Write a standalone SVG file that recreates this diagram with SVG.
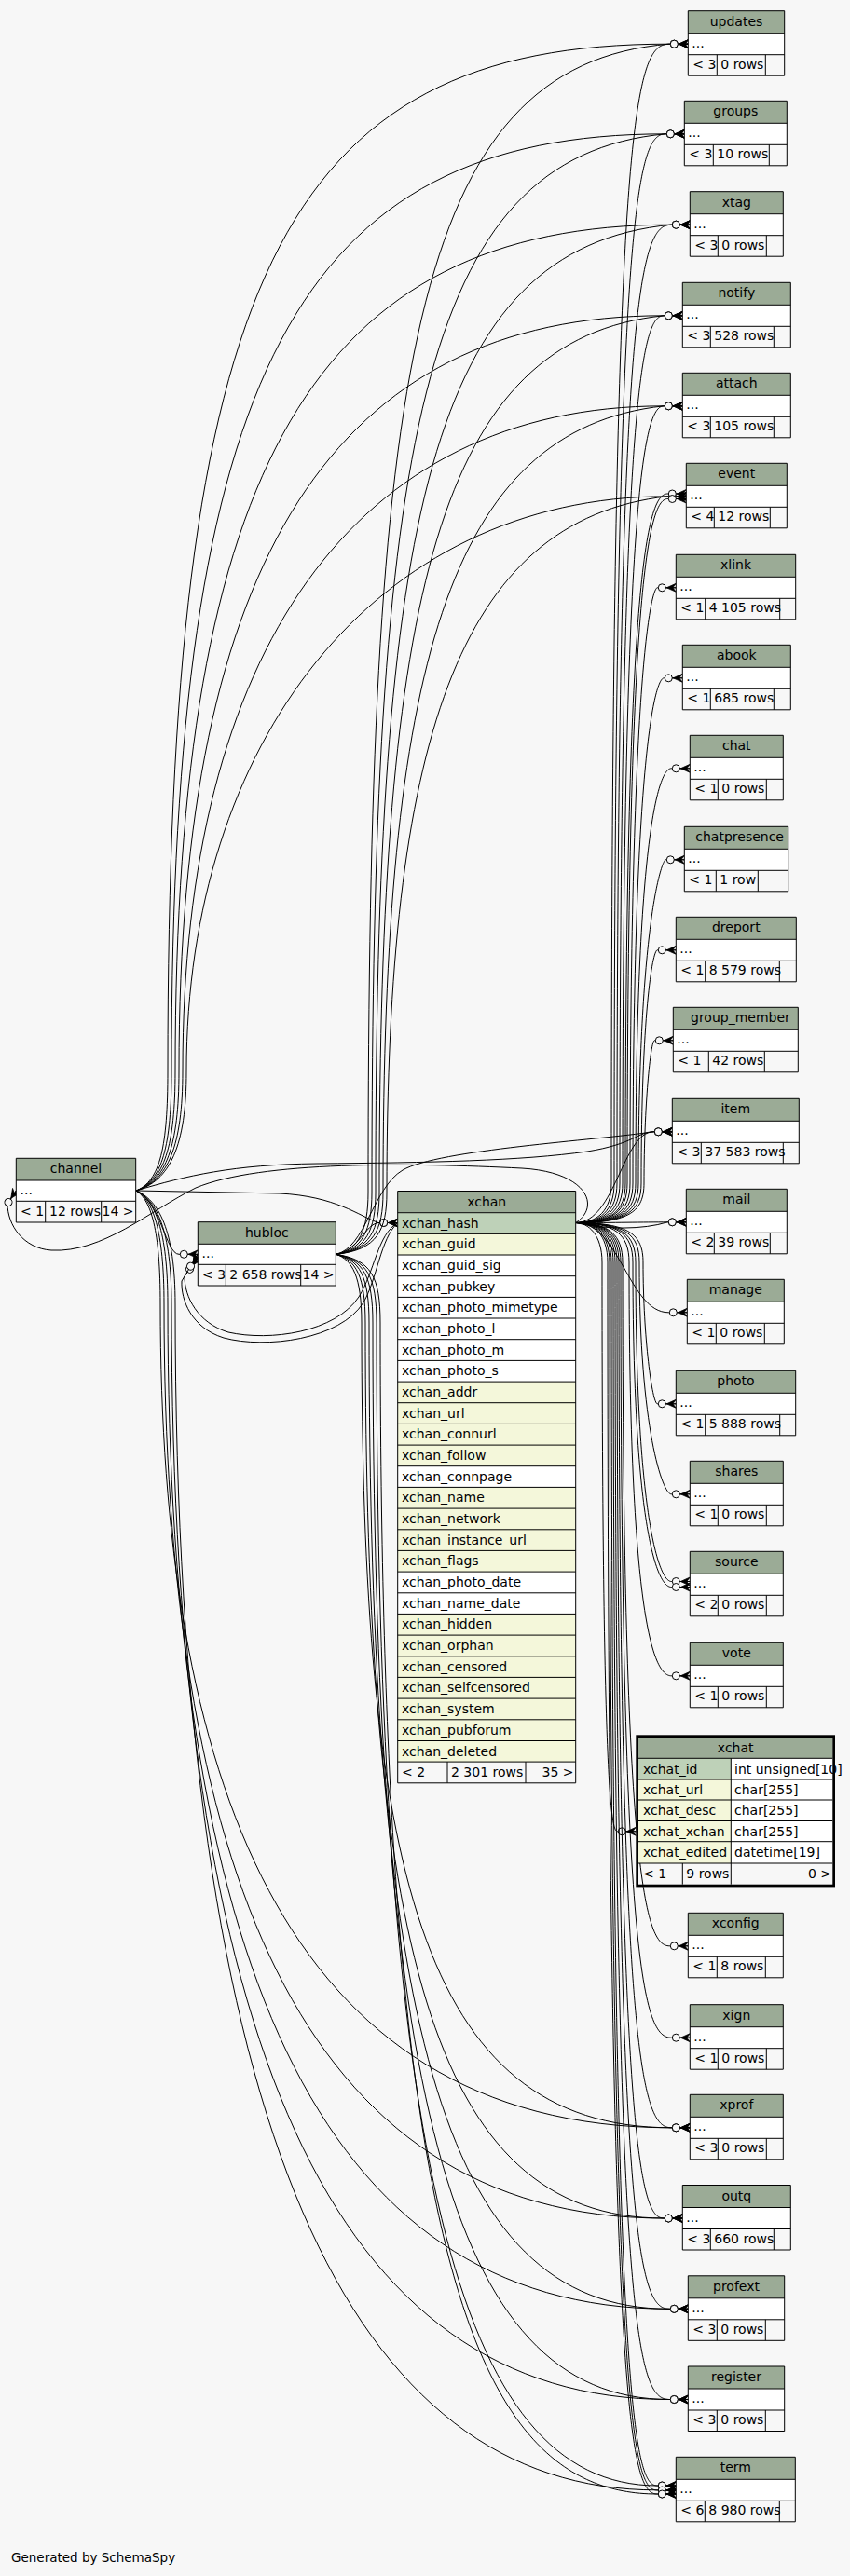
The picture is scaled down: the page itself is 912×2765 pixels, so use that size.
<svg xmlns="http://www.w3.org/2000/svg" width="912" height="2765" viewBox="0 0 912 2765">
<style>
.t{font-family:"DejaVu Sans",Verdana,sans-serif;font-size:14px;fill:#000}
.m{text-anchor:middle}
.r{text-anchor:end}
.hd{fill:#9bab96}
.pk{fill:#bed1b8}
.fk{fill:#f4f7da}
.w{fill:#fff}
.ln{fill:none;stroke:#000;stroke-width:1}
.e{fill:none;stroke:#000;stroke-width:1;marker-end:url(#cf)}
</style>
<defs>
<marker id="cf" viewBox="0 0 22 12" refX="21" refY="6" markerWidth="22" markerHeight="12" markerUnits="userSpaceOnUse" orient="auto">
<circle cx="6" cy="6" r="4" fill="#f7f7f7" stroke="#000" stroke-width="1"/>
<path d="M21,1.5 L11,6 L21,10.5 L17.5,6 Z" fill="#000" stroke="#000" stroke-width="0.8"/>
<path d="M10,6 H21" stroke="#000" stroke-width="1"/>
</marker>
</defs>
<rect x="0" y="0" width="912" height="2765" fill="#f7f7f7"/>
<g id="connectors">
<!-- channel -->
<path class="e" d="M146,1278 L300,1281 C360,1284 385,1305 406,1312.5 L426.7,1312.5"/>
<path class="e" d="M146,1278 C172,1288 178,1346.3 192,1346.3 L212.3,1346.3"/>
<path class="e" d="M146,1278 C172,1268 180,1230 180,1150 C180,300 300,47.2 718.3,47.2 L738.3,47.2"/>
<path class="e" d="M146,1278 C174,1268 184,1230 184,1150 C184,400 320,143.8 714.3,143.8 L734.3,143.8"/>
<path class="e" d="M146,1278 C176,1268 188,1230 188,1150 C188,500 340,241.2 720.3,241.2 L740.3,241.2"/>
<path class="e" d="M146,1278 C178,1268 192,1230 192,1150 C192,600 360,338.8 712.3,338.8 L732.3,338.8"/>
<path class="e" d="M146,1278 C180,1268 196,1230 196,1150 C196,700 380,435.8 712.3,435.8 L732.3,435.8"/>
<path class="e" d="M146,1278 C182,1268 200,1230 200,1150 C200,800 400,532.8 716.3,532.8 L736.3,532.8"/>
<path class="e" d="M146,1278 C200,1262 250,1250 340,1249 C460,1248 560,1246 630,1236 C680,1228 685,1214.8 701.3,1214.8 L721.3,1214.8"/>
<path class="e" d="M146,1278 C162,1288 172,1320 172,1400 C172,1900 300,2283.8 720.3,2283.8 L740.3,2283.8"/>
<path class="e" d="M146,1278 C164,1288 176,1320 176,1400 C176,2000 320,2381 712.3,2381 L732.3,2381"/>
<path class="e" d="M146,1278 C166,1288 180,1320 180,1400 C180,2100 340,2478.3 718.3,2478.3 L738.3,2478.3"/>
<path class="e" d="M146,1278 C168,1288 184,1320 184,1400 C184,2200 360,2575.5 718.3,2575.5 L738.3,2575.5"/>
<path class="e" d="M146,1278 C170,1288 188,1320 188,1400 C188,2300 380,2672.8 705.3,2672.8 L725.3,2672.8"/>
<!-- hubloc -->
<path class="e" d="M360.3,1346.3 C385,1342 392,1314 406,1312.5 L426.7,1312.5"/>
<path class="e" d="M360.3,1346.3 C385,1342 395,1320 395,1280 C395,400 440,70 718.3,47.2 L738.3,47.2"/>
<path class="e" d="M360.3,1346.3 C389,1342 399,1320 399,1280 C399,480 450,168 714.3,143.8 L734.3,143.8"/>
<path class="e" d="M360.3,1346.3 C393,1342 403,1320 403,1280 C403,560 460,266 720.3,241.2 L740.3,241.2"/>
<path class="e" d="M360.3,1346.3 C397,1342 407,1320 407,1280 C407,640 470,364 712.3,338.8 L732.3,338.8"/>
<path class="e" d="M360.3,1346.3 C401,1342 411,1320 411,1280 C411,720 480,461 712.3,435.8 L732.3,435.8"/>
<path class="e" d="M360.3,1346.3 C405,1342 415,1320 415,1280 C415,800 490,558 716.3,532.8 L736.3,532.8"/>
<path class="e" d="M360.3,1346.3 C392,1340 400,1275 432,1256 C470,1234 640,1224 701.3,1214.8 L721.3,1214.8"/>
<path class="e" d="M360.3,1346.3 C378,1352 388,1370 388,1420 C388,2000 450,2283.8 720.3,2283.8 L740.3,2283.8"/>
<path class="e" d="M360.3,1346.3 C382,1352 392,1370 392,1420 C392,2080 460,2381 712.3,2381 L732.3,2381"/>
<path class="e" d="M360.3,1346.3 C386,1352 396,1370 396,1420 C396,2160 470,2478.3 718.3,2478.3 L738.3,2478.3"/>
<path class="e" d="M360.3,1346.3 C390,1352 400,1370 400,1420 C400,2240 480,2575.5 718.3,2575.5 L738.3,2575.5"/>
<path class="e" d="M360.3,1346.3 C394,1352 404,1370 404,1420 C404,2320 490,2668 705.3,2668 L725.3,2668"/>
<path class="e" d="M360.3,1346.3 C398,1352 408,1370 408,1420 C408,2400 500,2677 705.3,2677 L725.3,2677"/>
<!-- xchan -->
<path class="e" d="M617.7,1312.5 C645,1295 630,1258 560,1254 C440,1248 280,1246 210,1275 C160,1300 110,1345 55,1342 C25,1340 8,1315 8,1292 L17.3,1278"/>
<path class="e" d="M426.7,1312.5 C405,1325 402,1365 385,1392 C360,1430 290,1440 245,1430 C212,1420 198,1392 198,1370 L212.3,1350"/>
<path class="e" d="M426.7,1312.5 C408,1330 405,1372 390,1398 C365,1438 285,1448 240,1436 C205,1425 194,1395 195,1375 L212.3,1346.3"/>
<path class="e" d="M617.7,1312.5 C641,1312.5 656,1300 656,1270 C656,117.2 681,47.2 718.3,47.2 L738.3,47.2"/>
<path class="e" d="M617.7,1312.5 C644,1312.5 659,1300 659,1270 C659,213.8 684,143.8 714.3,143.8 L734.3,143.8"/>
<path class="e" d="M617.7,1312.5 C647,1312.5 662,1300 662,1270 C662,311.2 687,241.2 720.3,241.2 L740.3,241.2"/>
<path class="e" d="M617.7,1312.5 C650,1312.5 665,1300 665,1270 C665,408.8 690,338.8 712.3,338.8 L732.3,338.8"/>
<path class="e" d="M617.7,1312.5 C653,1312.5 668,1300 668,1270 C668,505.8 693,435.8 712.3,435.8 L732.3,435.8"/>
<path class="e" d="M617.7,1312.5 C656,1312.5 671,1300 671,1270 C671,600 696,530 716.3,530 L736.3,530"/>
<path class="e" d="M617.7,1312.5 C658,1312.5 673,1300 673,1270 C673,605.5 698,535.5 716.3,535.5 L736.3,535.5"/>
<path class="e" d="M617.7,1312.5 C661,1312.5 676,1300 676,1270 C676,700.8 700,630.8 705.3,630.8 L725.3,630.8"/>
<path class="e" d="M617.7,1312.5 C664,1312.5 679,1300 679,1270 C679,797.8 704,727.8 712.3,727.8 L732.3,727.8"/>
<path class="e" d="M617.7,1312.5 C667,1312.5 682,1300 682,1270 C682,894.8 707,824.8 720.3,824.8 L740.3,824.8"/>
<path class="e" d="M617.7,1312.5 C670,1312.5 685,1300 685,1270 C685,992.8 710,922.8 714.3,922.8 L734.3,922.8"/>
<path class="e" d="M617.7,1312.5 C673,1312.5 688,1300 688,1270 C688,1089.8 700,1019.8 705.3,1019.8 L725.3,1019.8"/>
<path class="e" d="M617.7,1312.5 C676,1312.5 691,1300 691,1270 C691,1186.8 698,1116.8 702.3,1116.8 L722.3,1116.8"/>
<path class="e" d="M617.7,1312.5 C660,1312.5 668,1214.8 701.3,1214.8 L721.3,1214.8"/>
<path class="e" d="M617.7,1312.5 C660,1312.5 690,1311.8 716.3,1311.8 L736.3,1311.8"/>
<path class="e" d="M617.7,1312.5 C650,1320 690,1320 716.3,1311.8 L736.3,1311.8"/>
<path class="e" d="M617.7,1312.5 C665,1312.5 675,1408.8 717.3,1408.8 L737.3,1408.8"/>
<path class="e" d="M617.7,1312.5 C675,1312.5 690,1325 690,1355 C690,1436.8 700,1506.8 705.3,1506.8 L725.3,1506.8"/>
<path class="e" d="M617.7,1312.5 C671,1312.5 686,1325 686,1355 C686,1533.8 711,1603.8 720.3,1603.8 L740.3,1603.8"/>
<path class="e" d="M617.7,1312.5 C667,1312.5 682,1325 682,1355 C682,1627.5 707,1697.5 720.3,1697.5 L740.3,1697.5"/>
<path class="e" d="M617.7,1312.5 C664,1312.5 679,1325 679,1355 C679,1633.5 704,1703.5 720.3,1703.5 L740.3,1703.5"/>
<path class="e" d="M617.7,1312.5 C660,1312.5 675,1325 675,1355 C675,1728.8 700,1798.8 720.3,1798.8 L740.3,1798.8"/>
<path class="e" d="M617.7,1312.5 C631,1312.5 646,1325 646,1355 C646,1900 655,1965.8 662.3,1965.8 L682.3,1965.8"/>
<path class="e" d="M617.7,1312.5 C653,1312.5 668,1325 668,1355 C668,2018.8 693,2088.8 718.3,2088.8 L738.3,2088.8"/>
<path class="e" d="M617.7,1312.5 C651,1312.5 666,1325 666,1355 C666,2117.2 691,2187.2 720.3,2187.2 L740.3,2187.2"/>
<path class="e" d="M617.7,1312.5 C649,1312.5 664,1325 664,1355 C664,2213.8 689,2283.8 720.3,2283.8 L740.3,2283.8"/>
<path class="e" d="M617.7,1312.5 C647,1312.5 662,1325 662,1355 C662,2311 687,2381 712.3,2381 L732.3,2381"/>
<path class="e" d="M617.7,1312.5 C645,1312.5 660,1325 660,1355 C660,2408.3 685,2478.3 718.3,2478.3 L738.3,2478.3"/>
<path class="e" d="M617.7,1312.5 C643,1312.5 658,1325 658,1355 C658,2505.5 683,2575.5 718.3,2575.5 L738.3,2575.5"/>
<path class="e" d="M617.7,1312.5 C641,1312.5 656,1325 656,1355 C656,2598 681,2668 705.3,2668 L725.3,2668"/>
<path class="e" d="M617.7,1312.5 C639,1312.5 654,1325 654,1355 C654,2603 679,2673 705.3,2673 L725.3,2673"/>
<path class="e" d="M617.7,1312.5 C637,1312.5 652,1325 652,1355 C652,2607 677,2677 705.3,2677 L725.3,2677"/>
</g>

<g id="channel">
<rect class="hd" x="17.3" y="1243.3" width="128.4" height="23.7"/>
<rect class="w" x="17.3" y="1267" width="128.4" height="22.3"/>
<text class="t m" x="81.5" y="1259">channel</text>
<text class="t" x="21.5" y="1282">...</text>
<text class="t" x="22" y="1305">&lt; 1</text>
<text class="t" x="53" y="1305">12 rows</text>
<text class="t r" x="143.5" y="1305">14 &gt;</text>
<path class="ln" d="M17.3,1243.3H145.7V1312H17.3Z M17.3,1267H145.7 M17.3,1289.3H145.7 M48.7,1289.3V1312 M108.7,1289.3V1312"/>
</g>

<g id="hubloc">
<rect class="hd" x="212.3" y="1311.7" width="148" height="23.6"/>
<rect class="w" x="212.3" y="1335.3" width="148" height="22"/>
<text class="t m" x="286.3" y="1328">hubloc</text>
<text class="t" x="216.5" y="1350">...</text>
<text class="t" x="217" y="1373">&lt; 3</text>
<text class="t" x="246.3" y="1373">2 658 rows</text>
<text class="t r" x="358.5" y="1373">14 &gt;</text>
<path class="ln" d="M212.3,1311.7H360.3V1380H212.3Z M212.3,1335.3H360.3 M212.3,1357.3H360.3 M242.3,1357.3V1380 M322.7,1357.3V1380"/>
</g>

<g id="xchan">
<rect class="hd" x="426.7" y="1278.5" width="191" height="23.2"/>
<rect class="w" x="426.7" y="1301.7" width="191" height="589.4"/>
<rect class="pk" x="426.7" y="1301.7" width="191" height="22.7"/>
<rect class="fk" x="426.7" y="1324.4" width="191" height="22.6"/>
<rect class="fk" x="426.7" y="1483.1" width="191" height="90.6"/>
<rect class="fk" x="426.7" y="1596.4" width="191" height="90.7"/>
<rect class="fk" x="426.7" y="1732.4" width="191" height="158.7"/>
<text class="t m" x="522.2" y="1295">xchan</text>
<text class="t" x="431" y="1317.7">xchan_hash</text>
<text class="t" x="431" y="1340.4">xchan_guid</text>
<text class="t" x="431" y="1363">xchan_guid_sig</text>
<text class="t" x="431" y="1385.7">xchan_pubkey</text>
<text class="t" x="431" y="1408.4">xchan_photo_mimetype</text>
<text class="t" x="431" y="1431">xchan_photo_l</text>
<text class="t" x="431" y="1453.7">xchan_photo_m</text>
<text class="t" x="431" y="1476.4">xchan_photo_s</text>
<text class="t" x="431" y="1499.1">xchan_addr</text>
<text class="t" x="431" y="1521.7">xchan_url</text>
<text class="t" x="431" y="1544.4">xchan_connurl</text>
<text class="t" x="431" y="1567.1">xchan_follow</text>
<text class="t" x="431" y="1589.7">xchan_connpage</text>
<text class="t" x="431" y="1612.4">xchan_name</text>
<text class="t" x="431" y="1635.1">xchan_network</text>
<text class="t" x="431" y="1657.8">xchan_instance_url</text>
<text class="t" x="431" y="1680.4">xchan_flags</text>
<text class="t" x="431" y="1703.1">xchan_photo_date</text>
<text class="t" x="431" y="1725.8">xchan_name_date</text>
<text class="t" x="431" y="1748.4">xchan_hidden</text>
<text class="t" x="431" y="1771.1">xchan_orphan</text>
<text class="t" x="431" y="1793.8">xchan_censored</text>
<text class="t" x="431" y="1816.4">xchan_selfcensored</text>
<text class="t" x="431" y="1839.1">xchan_system</text>
<text class="t" x="431" y="1861.8">xchan_pubforum</text>
<text class="t" x="431" y="1884.5">xchan_deleted</text>
<text class="t" x="431" y="1907">&lt; 2</text>
<text class="t" x="484" y="1907">2 301 rows</text>
<text class="t r" x="615.5" y="1907">35 &gt;</text>
<path class="ln" d="M426.7,1278.5H617.7V1913.8H426.7Z M426.7,1301.7H617.7 M426.7,1324.4H617.7 M426.7,1347H617.7 M426.7,1369.7H617.7 M426.7,1392.4H617.7 M426.7,1415H617.7 M426.7,1437.7H617.7 M426.7,1460.4H617.7 M426.7,1483.1H617.7 M426.7,1505.7H617.7 M426.7,1528.4H617.7 M426.7,1551.1H617.7 M426.7,1573.7H617.7 M426.7,1596.4H617.7 M426.7,1619.1H617.7 M426.7,1641.8H617.7 M426.7,1664.4H617.7 M426.7,1687.1H617.7 M426.7,1709.8H617.7 M426.7,1732.4H617.7 M426.7,1755.1H617.7 M426.7,1777.8H617.7 M426.7,1800.4H617.7 M426.7,1823.1H617.7 M426.7,1845.8H617.7 M426.7,1868.5H617.7 M426.7,1891.1H617.7 M480,1891.1V1913.8 M564,1891.1V1913.8"/>
</g>

<g id="xchat">
<rect class="hd" x="685" y="1865" width="208.3" height="22.3"/>
<rect class="pk" x="685" y="1887.3" width="99.3" height="22.7"/>
<rect class="fk" x="685" y="1910" width="99.3" height="90"/>
<rect class="w" x="784.3" y="1887.3" width="109" height="112.7"/>
<text class="t m" x="789.2" y="1881">xchat</text>
<text class="t" x="690" y="1903.5">xchat_id</text>
<text class="t" x="788" y="1903.5">int unsigned[10]</text>
<text class="t" x="690" y="1926">xchat_url</text>
<text class="t" x="788" y="1926">char[255]</text>
<text class="t" x="690" y="1948.3">xchat_desc</text>
<text class="t" x="788" y="1948.3">char[255]</text>
<text class="t" x="690" y="1970.6">xchat_xchan</text>
<text class="t" x="788" y="1970.6">char[255]</text>
<text class="t" x="690" y="1993.4">xchat_edited</text>
<text class="t" x="788" y="1993.4">datetime[19]</text>
<text class="t" x="690" y="2016">&lt; 1</text>
<text class="t" x="736.3" y="2016">9 rows</text>
<text class="t r" x="892" y="2016">0 &gt;</text>
<path class="ln" d="M685,1887.3H893.3 M685,1910H893.3 M685,1932H893.3 M685,1954.5H893.3 M685,1976.7H893.3 M685,2000H893.3 M784.3,1887.3V2022.7 M732.3,2000V2022.7"/>
<rect x="683.65" y="1863.65" width="211" height="160.4" fill="none" stroke="#000" stroke-width="2.7"/>
</g>

<g id="updates">
<rect class="hd" x="738.3" y="11.7" width="103.4" height="24"/><rect class="w" x="738.3" y="35.7" width="103.4" height="23"/>
<text class="t m" x="790" y="27.7">updates</text><text class="t" x="742.3" y="50.7">...</text><text class="t" x="743.3" y="73.7">&lt; 3</text><text class="t" x="773.3" y="73.7">0 rows</text>
<path class="ln" d="M738.3,11.7H841.7V81.2H738.3Z M738.3,35.7H841.7 M738.3,58.7H841.7 M769.3,58.7V81.2 M821.3,58.7V81.2"/>
</g>
<g id="groups">
<rect class="hd" x="734.3" y="108.3" width="110" height="24"/><rect class="w" x="734.3" y="132.3" width="110" height="23"/>
<text class="t m" x="789.3" y="124.3">groups</text><text class="t" x="738.3" y="147.3">...</text><text class="t" x="739.3" y="170.3">&lt; 3</text><text class="t" x="769.3" y="170.3">10 rows</text>
<path class="ln" d="M734.3,108.3H844.3V177.8H734.3Z M734.3,132.3H844.3 M734.3,155.3H844.3 M765.3,155.3V177.8 M825.3,155.3V177.8"/>
</g>
<g id="xtag">
<rect class="hd" x="740.3" y="205.7" width="100" height="24"/><rect class="w" x="740.3" y="229.7" width="100" height="23"/>
<text class="t m" x="790.3" y="221.7">xtag</text><text class="t" x="744.3" y="244.7">...</text><text class="t" x="745.3" y="267.7">&lt; 3</text><text class="t" x="774.3" y="267.7">0 rows</text>
<path class="ln" d="M740.3,205.7H840.3V275.2H740.3Z M740.3,229.7H840.3 M740.3,252.7H840.3 M770.3,252.7V275.2 M822.3,252.7V275.2"/>
</g>
<g id="notify">
<rect class="hd" x="732.3" y="303.3" width="116" height="24"/><rect class="w" x="732.3" y="327.3" width="116" height="23"/>
<text class="t m" x="790.3" y="319.3">notify</text><text class="t" x="736.3" y="342.3">...</text><text class="t" x="737.3" y="365.3">&lt; 3</text><text class="t" x="766.3" y="365.3">528 rows</text>
<path class="ln" d="M732.3,303.3H848.3V372.8H732.3Z M732.3,327.3H848.3 M732.3,350.3H848.3 M762.3,350.3V372.8 M830.3,350.3V372.8"/>
</g>
<g id="attach">
<rect class="hd" x="732.3" y="400.3" width="116" height="24"/><rect class="w" x="732.3" y="424.3" width="116" height="23"/>
<text class="t m" x="790.3" y="416.3">attach</text><text class="t" x="736.3" y="439.3">...</text><text class="t" x="737.3" y="462.3">&lt; 3</text><text class="t" x="766.3" y="462.3">105 rows</text>
<path class="ln" d="M732.3,400.3H848.3V469.8H732.3Z M732.3,424.3H848.3 M732.3,447.3H848.3 M762.3,447.3V469.8 M830.3,447.3V469.8"/>
</g>
<g id="event">
<rect class="hd" x="736.3" y="497.3" width="108" height="24"/><rect class="w" x="736.3" y="521.3" width="108" height="23"/>
<text class="t m" x="790.3" y="513.3">event</text><text class="t" x="740.3" y="536.3">...</text><text class="t" x="741.3" y="559.3">&lt; 4</text><text class="t" x="770.3" y="559.3">12 rows</text>
<path class="ln" d="M736.3,497.3H844.3V566.8H736.3Z M736.3,521.3H844.3 M736.3,544.3H844.3 M766.3,544.3V566.8 M826.3,544.3V566.8"/>
</g>
<g id="xlink">
<rect class="hd" x="725.3" y="595.3" width="128.4" height="24"/><rect class="w" x="725.3" y="619.3" width="128.4" height="23"/>
<text class="t m" x="789.5" y="611.3">xlink</text><text class="t" x="729.3" y="634.3">...</text><text class="t" x="730.3" y="657.3">&lt; 1</text><text class="t" x="760.7" y="657.3">4 105 rows</text>
<path class="ln" d="M725.3,595.3H853.7V664.8H725.3Z M725.3,619.3H853.7 M725.3,642.3H853.7 M756.7,642.3V664.8 M836.7,642.3V664.8"/>
</g>
<g id="abook">
<rect class="hd" x="732.3" y="692.3" width="116" height="24"/><rect class="w" x="732.3" y="716.3" width="116" height="23"/>
<text class="t m" x="790.3" y="708.3">abook</text><text class="t" x="736.3" y="731.3">...</text><text class="t" x="737.3" y="754.3">&lt; 1</text><text class="t" x="766.3" y="754.3">685 rows</text>
<path class="ln" d="M732.3,692.3H848.3V761.8H732.3Z M732.3,716.3H848.3 M732.3,739.3H848.3 M762.3,739.3V761.8 M830.3,739.3V761.8"/>
</g>
<g id="chat">
<rect class="hd" x="740.3" y="789.3" width="100" height="24"/><rect class="w" x="740.3" y="813.3" width="100" height="23"/>
<text class="t m" x="790.3" y="805.3">chat</text><text class="t" x="744.3" y="828.3">...</text><text class="t" x="745.3" y="851.3">&lt; 1</text><text class="t" x="774.3" y="851.3">0 rows</text>
<path class="ln" d="M740.3,789.3H840.3V858.8H740.3Z M740.3,813.3H840.3 M740.3,836.3H840.3 M770.3,836.3V858.8 M822.3,836.3V858.8"/>
</g>
<g id="chatpresence">
<rect class="hd" x="734.3" y="887.3" width="111.4" height="24"/><rect class="w" x="734.3" y="911.3" width="111.4" height="23"/>
<text class="t" x="746.3" y="903.3">chatpresence</text><text class="t" x="738.3" y="926.3">...</text><text class="t" x="739.3" y="949.3">&lt; 1</text><text class="t" x="772.3" y="949.3">1 row</text>
<path class="ln" d="M734.3,887.3H845.7V956.8H734.3Z M734.3,911.3H845.7 M734.3,934.3H845.7 M768.3,934.3V956.8 M813.3,934.3V956.8"/>
</g>
<g id="dreport">
<rect class="hd" x="725.3" y="984.3" width="129" height="24"/><rect class="w" x="725.3" y="1008.3" width="129" height="23"/>
<text class="t m" x="789.8" y="1000.3">dreport</text><text class="t" x="729.3" y="1023.3">...</text><text class="t" x="730.3" y="1046.3">&lt; 1</text><text class="t" x="760.7" y="1046.3">8 579 rows</text>
<path class="ln" d="M725.3,984.3H854.3V1053.8H725.3Z M725.3,1008.3H854.3 M725.3,1031.3H854.3 M756.7,1031.3V1053.8 M836.3,1031.3V1053.8"/>
</g>
<g id="group_member">
<rect class="hd" x="722.3" y="1081.3" width="134" height="24"/><rect class="w" x="722.3" y="1105.3" width="134" height="23"/>
<text class="t" x="741" y="1097.3">group_member</text><text class="t" x="726.3" y="1120.3">...</text><text class="t" x="727.3" y="1143.3">&lt; 1</text><text class="t" x="764.3" y="1143.3">42 rows</text>
<path class="ln" d="M722.3,1081.3H856.3V1150.8H722.3Z M722.3,1105.3H856.3 M722.3,1128.3H856.3 M760.3,1128.3V1150.8 M820.3,1128.3V1150.8"/>
</g>
<g id="item">
<rect class="hd" x="721.3" y="1179.3" width="136" height="24"/><rect class="w" x="721.3" y="1203.3" width="136" height="23"/>
<text class="t m" x="789.3" y="1195.3">item</text><text class="t" x="725.3" y="1218.3">...</text><text class="t" x="726.3" y="1241.3">&lt; 3</text><text class="t" x="756.3" y="1241.3">37 583 rows</text>
<path class="ln" d="M721.3,1179.3H857.3V1248.8H721.3Z M721.3,1203.3H857.3 M721.3,1226.3H857.3 M752.3,1226.3V1248.8 M840.3,1226.3V1248.8"/>
</g>
<g id="mail">
<rect class="hd" x="736.3" y="1276.3" width="108" height="24"/><rect class="w" x="736.3" y="1300.3" width="108" height="23"/>
<text class="t m" x="790.3" y="1292.3">mail</text><text class="t" x="740.3" y="1315.3">...</text><text class="t" x="741.3" y="1338.3">&lt; 2</text><text class="t" x="770.3" y="1338.3">39 rows</text>
<path class="ln" d="M736.3,1276.3H844.3V1345.8H736.3Z M736.3,1300.3H844.3 M736.3,1323.3H844.3 M766.3,1323.3V1345.8 M826.3,1323.3V1345.8"/>
</g>
<g id="manage">
<rect class="hd" x="737.3" y="1373.3" width="104" height="24"/><rect class="w" x="737.3" y="1397.3" width="104" height="23"/>
<text class="t m" x="789.3" y="1389.3">manage</text><text class="t" x="741.3" y="1412.3">...</text><text class="t" x="742.3" y="1435.3">&lt; 1</text><text class="t" x="772.3" y="1435.3">0 rows</text>
<path class="ln" d="M737.3,1373.3H841.3V1442.8H737.3Z M737.3,1397.3H841.3 M737.3,1420.3H841.3 M768.3,1420.3V1442.8 M820.3,1420.3V1442.8"/>
</g>
<g id="photo">
<rect class="hd" x="725.3" y="1471.3" width="128.4" height="24"/><rect class="w" x="725.3" y="1495.3" width="128.4" height="23"/>
<text class="t m" x="789.5" y="1487.3">photo</text><text class="t" x="729.3" y="1510.3">...</text><text class="t" x="730.3" y="1533.3">&lt; 1</text><text class="t" x="760.7" y="1533.3">5 888 rows</text>
<path class="ln" d="M725.3,1471.3H853.7V1540.8H725.3Z M725.3,1495.3H853.7 M725.3,1518.3H853.7 M756.7,1518.3V1540.8 M836.7,1518.3V1540.8"/>
</g>
<g id="shares">
<rect class="hd" x="740.3" y="1568.3" width="100" height="24"/><rect class="w" x="740.3" y="1592.3" width="100" height="23"/>
<text class="t m" x="790.3" y="1584.3">shares</text><text class="t" x="744.3" y="1607.3">...</text><text class="t" x="745.3" y="1630.3">&lt; 1</text><text class="t" x="774.3" y="1630.3">0 rows</text>
<path class="ln" d="M740.3,1568.3H840.3V1637.8H740.3Z M740.3,1592.3H840.3 M740.3,1615.3H840.3 M770.3,1615.3V1637.8 M822.3,1615.3V1637.8"/>
</g>
<g id="source">
<rect class="hd" x="740.3" y="1665.3" width="100" height="24"/><rect class="w" x="740.3" y="1689.3" width="100" height="23"/>
<text class="t m" x="790.3" y="1681.3">source</text><text class="t" x="744.3" y="1704.3">...</text><text class="t" x="745.3" y="1727.3">&lt; 2</text><text class="t" x="774.3" y="1727.3">0 rows</text>
<path class="ln" d="M740.3,1665.3H840.3V1734.8H740.3Z M740.3,1689.3H840.3 M740.3,1712.3H840.3 M770.3,1712.3V1734.8 M822.3,1712.3V1734.8"/>
</g>
<g id="vote">
<rect class="hd" x="740.3" y="1763.3" width="100" height="24"/><rect class="w" x="740.3" y="1787.3" width="100" height="23"/>
<text class="t m" x="790.3" y="1779.3">vote</text><text class="t" x="744.3" y="1802.3">...</text><text class="t" x="745.3" y="1825.3">&lt; 1</text><text class="t" x="774.3" y="1825.3">0 rows</text>
<path class="ln" d="M740.3,1763.3H840.3V1832.8H740.3Z M740.3,1787.3H840.3 M740.3,1810.3H840.3 M770.3,1810.3V1832.8 M822.3,1810.3V1832.8"/>
</g>
<g id="xconfig">
<rect class="hd" x="738.3" y="2053.3" width="102" height="24"/><rect class="w" x="738.3" y="2077.3" width="102" height="23"/>
<text class="t m" x="789.3" y="2069.3">xconfig</text><text class="t" x="742.3" y="2092.3">...</text><text class="t" x="743.3" y="2115.3">&lt; 1</text><text class="t" x="773.3" y="2115.3">8 rows</text>
<path class="ln" d="M738.3,2053.3H840.3V2122.8H738.3Z M738.3,2077.3H840.3 M738.3,2100.3H840.3 M769.3,2100.3V2122.8 M821.3,2100.3V2122.8"/>
</g>
<g id="xign">
<rect class="hd" x="740.3" y="2151.7" width="100" height="24"/><rect class="w" x="740.3" y="2175.7" width="100" height="23"/>
<text class="t m" x="790.3" y="2167.7">xign</text><text class="t" x="744.3" y="2190.7">...</text><text class="t" x="745.3" y="2213.7">&lt; 1</text><text class="t" x="774.3" y="2213.7">0 rows</text>
<path class="ln" d="M740.3,2151.7H840.3V2221.2H740.3Z M740.3,2175.7H840.3 M740.3,2198.7H840.3 M770.3,2198.7V2221.2 M822.3,2198.7V2221.2"/>
</g>
<g id="xprof">
<rect class="hd" x="740.3" y="2248.3" width="100" height="24"/><rect class="w" x="740.3" y="2272.3" width="100" height="23"/>
<text class="t m" x="790.3" y="2264.3">xprof</text><text class="t" x="744.3" y="2287.3">...</text><text class="t" x="745.3" y="2310.3">&lt; 3</text><text class="t" x="774.3" y="2310.3">0 rows</text>
<path class="ln" d="M740.3,2248.3H840.3V2317.8H740.3Z M740.3,2272.3H840.3 M740.3,2295.3H840.3 M770.3,2295.3V2317.8 M822.3,2295.3V2317.8"/>
</g>
<g id="outq">
<rect class="hd" x="732.3" y="2345.5" width="116" height="24"/><rect class="w" x="732.3" y="2369.5" width="116" height="23"/>
<text class="t m" x="790.3" y="2361.5">outq</text><text class="t" x="736.3" y="2384.5">...</text><text class="t" x="737.3" y="2407.5">&lt; 3</text><text class="t" x="766.3" y="2407.5">660 rows</text>
<path class="ln" d="M732.3,2345.5H848.3V2415H732.3Z M732.3,2369.5H848.3 M732.3,2392.5H848.3 M762.3,2392.5V2415 M830.3,2392.5V2415"/>
</g>
<g id="profext">
<rect class="hd" x="738.3" y="2442.8" width="103.4" height="24"/><rect class="w" x="738.3" y="2466.8" width="103.4" height="23"/>
<text class="t m" x="790" y="2458.8">profext</text><text class="t" x="742.3" y="2481.8">...</text><text class="t" x="743.3" y="2504.8">&lt; 3</text><text class="t" x="773.3" y="2504.8">0 rows</text>
<path class="ln" d="M738.3,2442.8H841.7V2512.3H738.3Z M738.3,2466.8H841.7 M738.3,2489.8H841.7 M769.3,2489.8V2512.3 M821.3,2489.8V2512.3"/>
</g>
<g id="register">
<rect class="hd" x="738.3" y="2540" width="103.4" height="24"/><rect class="w" x="738.3" y="2564" width="103.4" height="23"/>
<text class="t m" x="790" y="2556">register</text><text class="t" x="742.3" y="2579">...</text><text class="t" x="743.3" y="2602">&lt; 3</text><text class="t" x="773.3" y="2602">0 rows</text>
<path class="ln" d="M738.3,2540H841.7V2609.5H738.3Z M738.3,2564H841.7 M738.3,2587H841.7 M769.3,2587V2609.5 M821.3,2587V2609.5"/>
</g>
<g id="term">
<rect class="hd" x="725.3" y="2637.3" width="128" height="24"/><rect class="w" x="725.3" y="2661.3" width="128" height="23"/>
<text class="t m" x="789.3" y="2653.3">term</text><text class="t" x="729.3" y="2676.3">...</text><text class="t" x="730.3" y="2699.3">&lt; 6</text><text class="t" x="760.3" y="2699.3">8 980 rows</text>
<path class="ln" d="M725.3,2637.3H853.3V2706.8H725.3Z M725.3,2661.3H853.3 M725.3,2684.3H853.3 M756.3,2684.3V2706.8 M836.3,2684.3V2706.8"/>
</g>
<text class="t" x="12" y="2750" style="font-size:13.5px">Generated by SchemaSpy</text>
</svg>
